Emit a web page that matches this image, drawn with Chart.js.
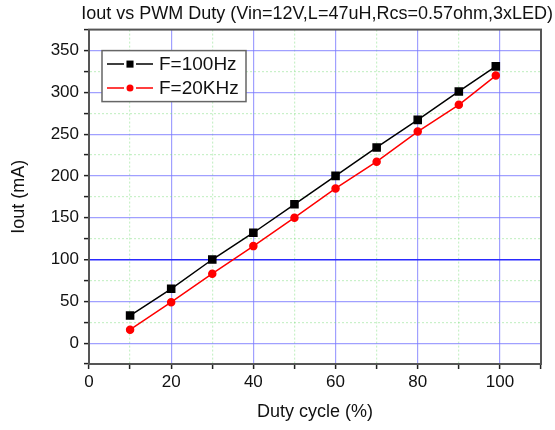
<!DOCTYPE html>
<html>
<head>
<meta charset="utf-8">
<script src="https://cdn.jsdelivr.net/npm/chart.js@4/dist/chart.umd.min.js"></script>
<style>
html,body{margin:0;padding:0;background:#fff;}
#wrap{width:555px;height:430px;}
</style>
</head>
<body>
<div id="wrap"><canvas id="c" width="555" height="430"></canvas></div>
<script>
const dutyCycle = [10, 20, 30, 40, 50, 60, 70, 80, 90, 99];
const iout100Hz = [33, 65, 100, 132, 166, 200, 234, 267, 301, 331];
const iout20KHz = [16, 49, 83, 116, 150, 185, 217, 253, 285, 320];
const seriesNames = ['F=100Hz', 'F=20KHz'];
const chartTitle = 'Iout vs PWM Duty (Vin=12V,L=47uH,Rcs=0.57ohm,3xLED)';
const xTitle = 'Duty cycle (%)';
const yTitle = 'Iout (mA)';

const FONT = "'Liberation Sans', Arial, sans-serif";

const frameAndLegend = {
  id: 'frameAndLegend',
  beforeDatasetsDraw(chart) {
    const {ctx, chartArea: a} = chart;
    ctx.save();
    ctx.strokeStyle = '#555';
    ctx.lineWidth = 2;
    ctx.strokeRect(a.left, a.top, a.right - a.left, a.bottom - a.top);
    ctx.restore();
  },
  afterDraw(chart) {
    const {ctx, chartArea: a} = chart;
    const bx = a.left + 13, by = a.top + 21, bw = 144, bh = 51;
    ctx.save();
    ctx.fillStyle = '#fff';
    ctx.fillRect(bx, by, bw, bh);
    ctx.strokeStyle = '#666';
    ctx.lineWidth = 1.5;
    ctx.strokeRect(bx, by, bw, bh);
    chart.data.datasets.forEach((ds, i) => {
      const cy = by + 13.5 + i * 24;
      const mx = bx + 28;
      ctx.strokeStyle = ds.borderColor;
      ctx.lineWidth = 1.5;
      ctx.beginPath();
      ctx.moveTo(bx + 5, cy);
      ctx.lineTo(mx - 6, cy);
      ctx.moveTo(mx + 6, cy);
      ctx.lineTo(bx + 51, cy);
      ctx.stroke();
      ctx.fillStyle = ds.pointBackgroundColor;
      ctx.beginPath();
      if (ds.pointStyle === 'rect') {
        const s = ds.pointRadius * Math.SQRT1_2;
        ctx.fillRect(mx - s, cy - s, 2 * s, 2 * s);
      } else {
        ctx.arc(mx, cy, ds.pointRadius, 0, Math.PI * 2);
        ctx.fill();
      }
      ctx.fillStyle = '#111';
      ctx.font = '19px ' + FONT;
      ctx.textBaseline = 'middle';
      ctx.textAlign = 'left';
      ctx.fillText(ds.label, bx + 57, cy + 1);
    });
    ctx.restore();
  }
};

new Chart(document.getElementById('c'), {
  type: 'line',
  data: {
    datasets: [
      {
        label: seriesNames[0],
        data: dutyCycle.map((x, i) => ({x: x, y: iout100Hz[i]})),
        borderColor: '#000',
        backgroundColor: '#000',
        pointBackgroundColor: '#000',
        pointBorderColor: '#000',
        pointStyle: 'rect',
        pointRadius: 5,
        borderWidth: 1.5,
        tension: 0
      },
      {
        label: seriesNames[1],
        data: dutyCycle.map((x, i) => ({x: x, y: iout20KHz[i]})),
        borderColor: '#ff0000',
        backgroundColor: '#ff0000',
        pointBackgroundColor: '#ff0000',
        pointBorderColor: '#ff0000',
        pointStyle: 'circle',
        pointRadius: 3.5,
        borderWidth: 1.5,
        tension: 0
      }
    ]
  },
  options: {
    responsive: false,
    animation: false,
    events: [],
    layout: {padding: {left: 0, right: 2, top: 0, bottom: 0}},
    plugins: {
      legend: {display: false},
      tooltip: {enabled: false},
      title: {
        display: true,
        fullSize: true,
        align: 'end',
        text: chartTitle,
        color: '#111',
        font: {family: FONT, size: 18, weight: 'normal'},
        padding: {top: 3, bottom: 5}
      }
    },
    scales: {
      x: {
        type: 'linear',
        min: 0, max: 110,
        afterFit(s) { s.height = 66; },
        ticks: {
          stepSize: 10,
          autoSkip: false,
          maxRotation: 0,
          color: '#111',
          font: {family: FONT, size: 17},
          padding: 3,
          callback: v => (v % 20 === 0 && v <= 100) ? String(v) : ''
        },
        grid: {
          drawOnChartArea: true,
          tickLength: 5,
          tickColor: '#222',
          tickWidth: 1.5,
          lineWidth: 1.2,
          color: c => {
            const v = c.tick ? c.tick.value : 0;
            if (v <= 0 || v >= 110) return 'rgba(0,0,0,0)';
            return v % 20 === 0 ? 'rgba(120,120,255,0.7)' : 'rgba(120,220,120,0.4)';
          }
        },
        border: {
          display: true, color: '#333', width: 2,
          dash: c => (c.tick && c.tick.value % 20 !== 0) ? [2, 2] : []
        },
        title: {
          display: true, text: xTitle, color: '#111',
          font: {family: FONT, size: 18}, padding: {top: 0, bottom: 7}
        }
      },
      y: {
        type: 'linear',
        min: -25, max: 375,
        afterFit(s) { s.width = 89; },
        ticks: {
          stepSize: 25,
          autoSkip: false,
          color: '#111',
          font: {family: FONT, size: 17},
          padding: 5,
          callback: v => (v % 50 === 0 && v >= 0 && v <= 350) ? String(v) : ''
        },
        grid: {
          tickLength: 5,
          tickColor: '#222',
          tickWidth: 1.5,
          lineWidth: c => (c.tick && c.tick.value === 100) ? 1.5 : 1.2,
          color: c => {
            const v = c.tick ? c.tick.value : 0;
            if (v <= -25 || v >= 375) return 'rgba(0,0,0,0)';
            if (v === 100) return '#2a2aff';
            return v % 50 === 0 ? 'rgba(120,120,255,0.7)' : 'rgba(120,220,120,0.4)';
          }
        },
        border: {
          display: true, color: '#333', width: 2,
          dash: c => (c.tick && c.tick.value % 50 !== 0) ? [2, 2] : []
        },
        title: {
          display: true, text: yTitle, color: '#111',
          font: {family: FONT, size: 18}, padding: {top: 8, bottom: 0}
        }
      },
      yRight: {
        type: 'linear',
        position: 'right',
        min: -25, max: 375,
        afterFit(s) { s.width = 12; },
        ticks: {display: false},
        grid: {display: false, drawOnChartArea: false},
        border: {display: false},
        title: {display: false}
      }
    }
  },
  plugins: [frameAndLegend]
});
</script>
</body>
</html>
